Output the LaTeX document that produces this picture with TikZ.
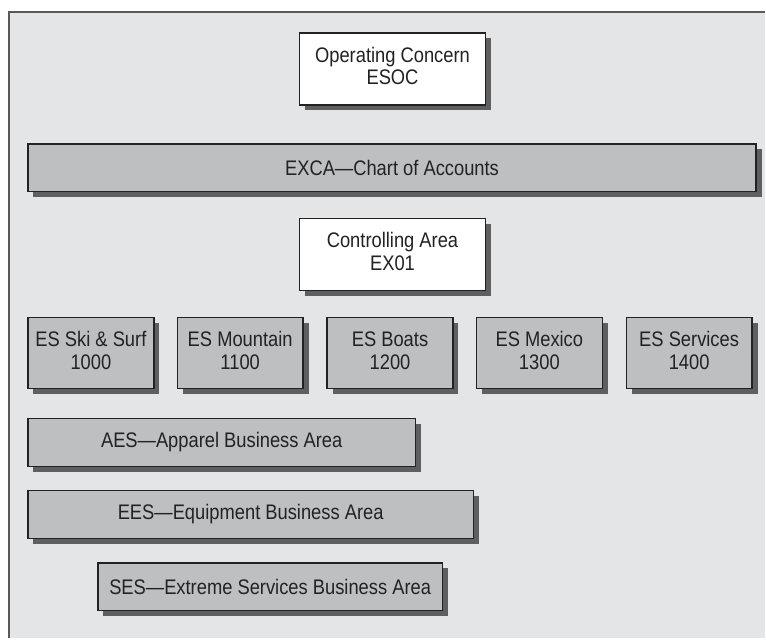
\documentclass[tikz,border=0pt]{standalone}
\usepackage{fontspec}
\setmainfont{Liberation Sans}[FakeStretch=0.87]
\usepackage{tikz}
\usetikzlibrary{shadows}
\definecolor{panelgray}{RGB}{228, 229, 231}
\definecolor{framegray}{RGB}{88, 88, 90}
\definecolor{boxgray}{RGB}{190, 191, 193}
\definecolor{shadowgray}{RGB}{94, 95, 97}
\definecolor{inkgray}{RGB}{34, 34, 34}
\newcommand{\boxlines}[2]{\strut#1\\#2\strut}

\begin{document}
\begin{tikzpicture}[
  org/.style={draw=inkgray, line width=0.8pt, align=center, text=inkgray,
              font=\fontsize{12}{13}\selectfont, inner sep=0pt,
              drop shadow={shadow xshift=0.11cm, shadow yshift=-0.11cm,
                           fill=shadowgray, opacity=1}},
  head/.style={org, fill=white, minimum width=3.72cm, minimum height=1.44cm},
  unit/.style={org, fill=boxgray, minimum width=2.52cm, minimum height=1.42cm},
  band/.style={org, fill=boxgray, minimum height=0.96cm}
]
  \fill[white] (0, 0) rectangle (15.32, -12.78);
  \fill[panelgray] (0.18, -0.24) rectangle (15.32, -12.78);
  \draw[framegray, line width=1.1pt] (0.18, -12.78) -- (0.18, -0.24) -- (15.32, -0.24);

  \node[head] (esoc) at (7.86, -1.38) {\boxlines{Operating Concern}{ESOC}};
  \node[band, minimum width=14.58cm] (excha) at (7.85, -3.36) {EXCA—Chart of Accounts};
  \node[head] (ex01) at (7.86, -5.10) {\boxlines{Controlling Area}{EX01}};

  \node[unit] (cc1000) at (1.82, -7.07) {\boxlines{ES Ski \& Surf}{1000}};
  \node[unit] (cc1100) at (4.81, -7.07) {\boxlines{ES Mountain}{1100}};
  \node[unit] (cc1200) at (7.81, -7.07) {\boxlines{ES Boats}{1200}};
  \node[unit] (cc1300) at (10.80, -7.07) {\boxlines{ES Mexico}{1300}};
  \node[unit] (cc1400) at (13.80, -7.07) {\boxlines{ES Services}{1400}};

  \node[band, minimum width=7.76cm] (aes) at (4.44, -8.86) {AES—Apparel Business Area};
  \node[band, minimum width=8.92cm] (ees) at (5.02, -10.30) {EES—Equipment Business Area};
  \node[band, minimum width=6.90cm] (ses) at (5.41, -11.75) {SES—Extreme Services Business Area};
\end{tikzpicture}
\end{document}
